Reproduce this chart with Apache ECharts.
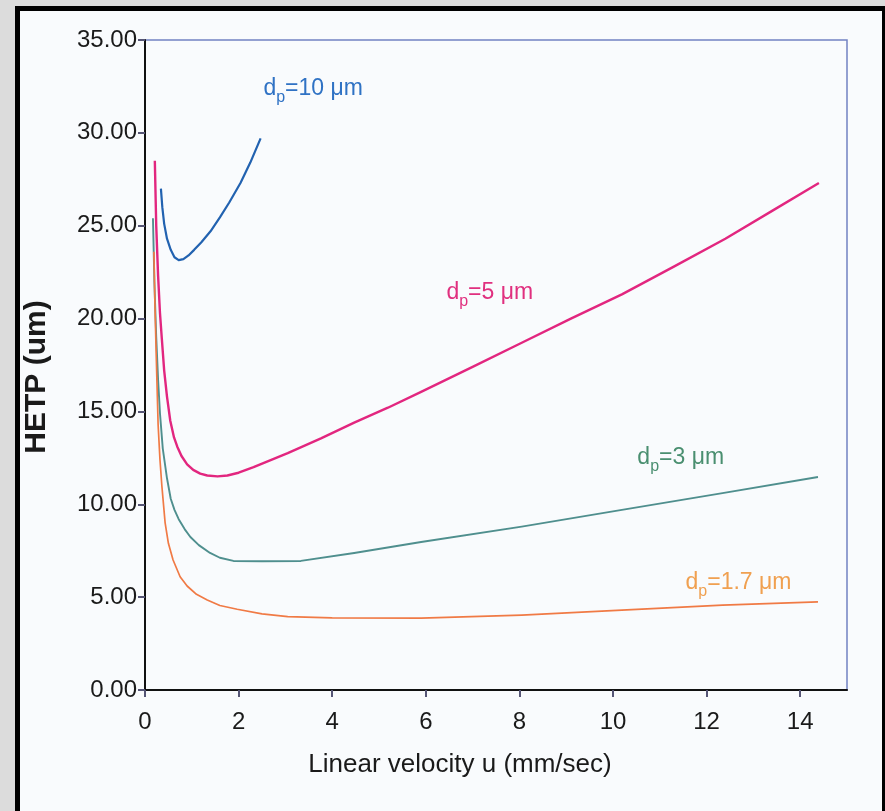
<!DOCTYPE html>
<html>
<head>
<meta charset="utf-8">
<script src="https://cdn.jsdelivr.net/npm/echarts@6/dist/echarts.min.js"></script>
<style>
    html, body { margin: 0; padding: 0; background: #dcdcdc; overflow: hidden; }
    #frame {
        position: absolute; left: 15px; top: 6px; width: 862px; height: 820px;
        border: 5px solid #000; background: #f9fbfd;
    }
    #chartmain_line { position: absolute; left: 0; top: 0; width: 885px; height: 811px; }
</style>
</head>
<body>
<div id="frame"></div>
<div id="chartmain_line"></div>
<script>
    // 刻度
    const xTicks = [0, 2, 4, 6, 8, 10, 12, 14];

    // 曲线数据 [u, HETP]
    const dp10 = [[0.34, 27.0], [0.37, 26.0], [0.41, 25.1], [0.47, 24.3], [0.55, 23.7], [0.63, 23.3],
        [0.72, 23.15], [0.82, 23.2], [0.93, 23.4], [1.05, 23.7], [1.2, 24.1], [1.4, 24.7],
        [1.6, 25.45], [1.8, 26.25], [2.04, 27.3], [2.25, 28.4], [2.47, 29.7]];
    const dp5 = [[0.21, 28.5], [0.24, 25.0], [0.28, 22.3], [0.32, 20.3], [0.36, 18.9], [0.41, 17.2],
        [0.47, 15.8], [0.54, 14.5], [0.62, 13.6], [0.69, 13.1], [0.78, 12.6], [0.9, 12.15],
        [1.03, 11.85], [1.18, 11.65], [1.33, 11.55], [1.55, 11.5], [1.76, 11.55], [2.0, 11.7],
        [2.32, 12.0], [3.05, 12.75], [3.76, 13.55], [4.47, 14.4], [5.19, 15.2], [5.9, 16.05],
        [7.0, 17.4], [8.05, 18.7], [9.1, 20.0], [10.19, 21.3], [11.3, 22.8], [12.4, 24.3],
        [13.4, 25.8], [14.4, 27.3]];
    const dp3 = [[0.17, 25.4], [0.2, 22.0], [0.24, 19.0], [0.28, 16.7], [0.32, 14.9], [0.38, 13.0],
        [0.47, 11.4], [0.55, 10.3], [0.63, 9.7], [0.72, 9.2], [0.85, 8.65], [0.97, 8.24],
        [1.15, 7.8], [1.39, 7.38], [1.6, 7.12], [1.89, 6.95], [2.5, 6.93], [3.33, 6.95],
        [4.47, 7.38], [5.9, 7.97], [8.05, 8.8], [10.19, 9.7], [12.34, 10.6], [14.38, 11.47]];
    const dp17 = [[0.19, 23.6], [0.21, 21.0], [0.24, 18.0], [0.28, 14.3], [0.32, 12.4], [0.36, 11.0],
        [0.43, 9.0], [0.5, 7.9], [0.6, 7.0], [0.75, 6.1], [0.9, 5.6], [1.1, 5.15], [1.33, 4.85],
        [1.6, 4.55], [1.97, 4.35], [2.5, 4.1], [3.05, 3.95], [4.0, 3.88], [5.9, 3.87],
        [8.05, 4.03], [10.19, 4.3], [12.34, 4.57], [14.38, 4.74]];

    const FONT = 'Liberation Sans, Arial, sans-serif';

    const line = echarts.init(document.getElementById('chartmain_line'));

    // 曲线标注 d_p=...
    function tag(text, coord, color) {
        return {
            silent: true,
            symbol: 'circle',
            symbolSize: 0,
            data: [{ coord: coord }],
            label: {
                show: true,
                position: 'right',
                distance: 0,
                formatter: '{d|d}{p|p}{t|=' + text + '}',
                rich: {
                    d: { color: color, fontSize: 23, fontFamily: FONT, lineHeight: 34, verticalAlign: 'middle' },
                    p: { color: color, fontSize: 16, fontFamily: FONT, lineHeight: 34, verticalAlign: 'bottom' },
                    t: { color: color, fontSize: 23, fontFamily: FONT, lineHeight: 34, verticalAlign: 'middle' }
                }
            }
        };
    }

    function curve(name, data, color, width, label) {
        return {
            name: name,
            type: 'line',
            data: data,
            showSymbol: false,
            smooth: false,
            lineStyle: { color: color, width: width, join: 'round' },
            itemStyle: { color: color },
            markPoint: label
        };
    }

    const option = {
        animation: false,
        grid: {
            left: 145, right: 38, top: 40, bottom: 121,
            show: true, borderColor: '#7282c2', borderWidth: 1.5
        },
        xAxis: {
            type: 'value',
            min: 0, max: 15, interval: 2,
            name: 'Linear velocity u (mm/sec)',
            nameLocation: 'middle',
            nameGap: 62,
            nameTextStyle: { color: '#1a1a1a', fontSize: 26, fontFamily: FONT, padding: [0, 72, 0, 0] },
            axisLine: { show: true, lineStyle: { color: '#111', width: 2 } },
            axisTick: { show: true, length: 7, customValues: xTicks, lineStyle: { color: '#555575', width: 2 } },
            axisLabel: { customValues: xTicks, color: '#1a1a1a', fontSize: 24, fontFamily: FONT, margin: 20 },
            splitLine: { show: false }
        },
        yAxis: {
            type: 'value',
            min: 0, max: 35, interval: 5,
            name: 'HETP (um)',
            nameLocation: 'middle',
            nameGap: 93,
            nameTextStyle: { color: '#1a1a1a', fontSize: 30, fontWeight: 'bold', fontFamily: FONT, padding: [0, 24, 0, 0] },
            axisLine: { show: true, lineStyle: { color: '#111', width: 2 } },
            axisTick: { show: true, length: 7, lineStyle: { color: '#555575', width: 2 } },
            axisLabel: {
                color: '#1a1a1a', fontSize: 24, fontFamily: FONT, margin: 8,
                formatter: function (v) { return v.toFixed(2); }
            },
            splitLine: { show: false }
        },
        series: [
            curve('dp10', dp10, '#2262b0', 2.2, tag('10 μm', [2.53, 32.4], '#2f72c4')),
            curve('dp5', dp5, '#e2267f', 2.4, tag('5 μm', [6.44, 21.4], '#e0307f')),
            curve('dp3', dp3, '#4f8f8e', 1.9, tag('3 μm', [10.52, 12.5], '#4a8f70')),
            curve('dp17', dp17, '#f07a45', 1.7, tag('1.7 μm', [11.55, 5.8], '#f0a050'))
        ]
    };

    function init() {
        line.setOption(option);
        window.addEventListener('resize', function () {
            line.resize();
        });
    }

    init();
</script>
</body>
</html>
